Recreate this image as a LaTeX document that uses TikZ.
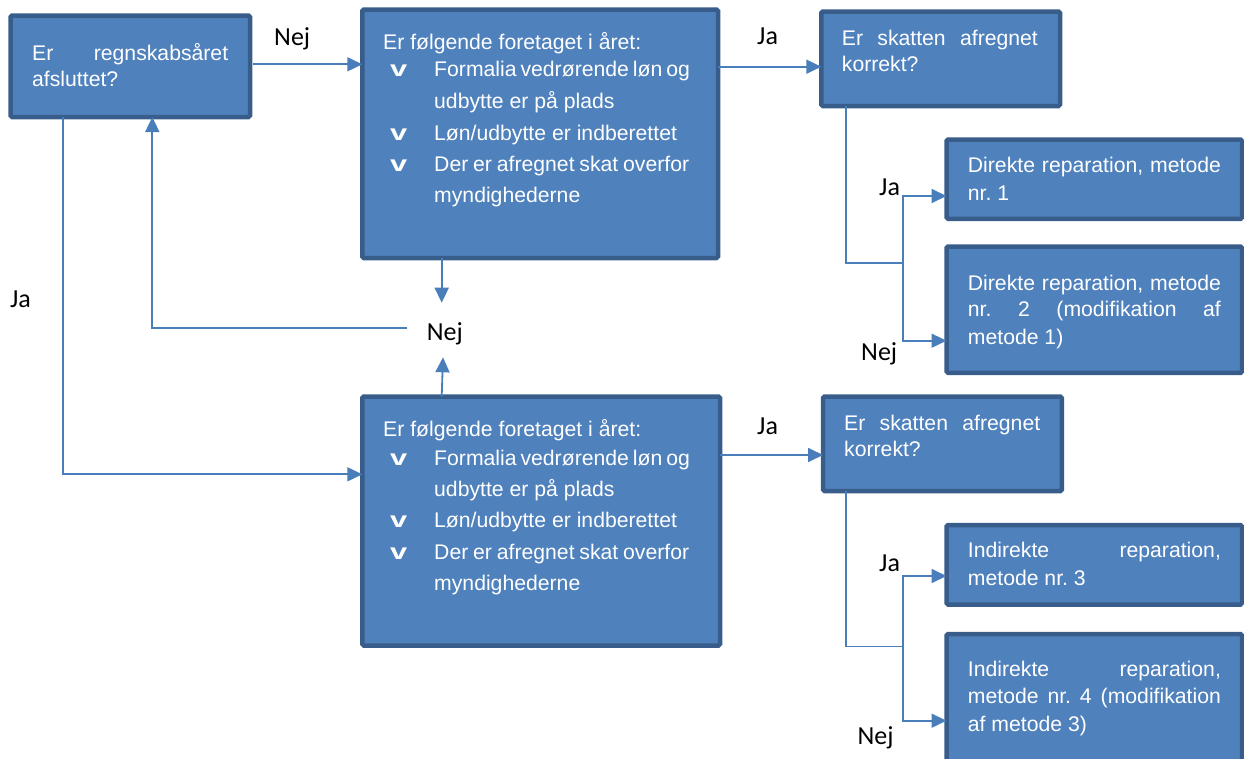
\documentclass[tikz,border=0pt]{standalone}
\usepackage{fontspec}
\usepackage{graphicx}
\setmainfont{Liberation Sans}
\newfontfamily\lblfont{Carlito}
\usetikzlibrary{arrows.meta}
\definecolor{boxfill}{HTML}{4F81BD}
\definecolor{boxline}{HTML}{385D8A}
\definecolor{conncol}{HTML}{4A7EBB}
\frenchspacing
\begin{document}
\begin{tikzpicture}[x=1pt,y=-1pt,
 box/.style={draw=boxline,fill=boxfill,line width=4.5pt,rounded corners=1.5pt,inner sep=0pt,outer sep=0pt,anchor=north west},
 txt/.style={anchor=base west,inner sep=0pt,text=white,font=\fontsize{21.2}{24}\selectfont},
 lbl/.style={anchor=base west,inner sep=0pt,font=\lblfont\fontsize{26}{30}\selectfont},
 chk/.style={txt,font=\fontsize{22}{24}\selectfont\bfseries},
 conn/.style={draw=conncol,line width=1.8pt},
 arr/.style={conn,-{Triangle[length=15pt,width=14pt]}}]
\useasboundingbox (0,0) rectangle (1244,758);

% boxes
\node[box,minimum width=239.5pt,minimum height=101.5pt] (A) at (10.5,15.5) {};
\node[box,minimum width=355.7pt,minimum height=248.5pt] (B) at (362.3,9.5) {};
\node[box,minimum width=238.7pt,minimum height=94.5pt] (C) at (821.3,11.5) {};
\node[box,minimum width=295.5pt,minimum height=79.3pt] (D) at (946.5,139.5) {};
\node[box,minimum width=295.5pt,minimum height=126.3pt] (E) at (946.5,246.5) {};
\node[box,minimum width=357.7pt,minimum height=249pt] (F) at (362.3,396.5) {};
\node[box,minimum width=238.8pt,minimum height=94.5pt] (G) at (823,396.5) {};
\node[box,minimum width=295.5pt,minimum height=79.5pt] (H) at (946.5,525) {};
\node[box,minimum width=295.5pt,minimum height=140pt] (I) at (946.5,634) {};

% box texts
\node[txt] (a1) at (32,60) {\makebox[196pt][s]{Er regnskabsåret}};
\node[txt] (a2) at (32,86) {afsluttet?};

\node[txt] (b0) at (383,49.3) {Er følgende foretaget i året:};
\node[chk] (bv1) at (390,76.7) {\scalebox{1.4}[1]{v}};
\node[chk] (bv2) at (390,140) {\scalebox{1.4}[1]{v}};
\node[chk] (bv3) at (390,171.7) {\scalebox{1.4}[1]{v}};
\node[txt] (b1) at (434,76.7) {\makebox[253pt][s]{Formalia vedrørende løn og}};
\node[txt] (b2) at (434,108) {udbytte er på plads};
\node[txt] (b3) at (434,140) {Løn/udbytte er indberettet};
\node[txt] (b4) at (434,171.7) {\makebox[255pt][s]{Der er afregnet skat overfor}};
\node[txt] (b5) at (434,202) {myndighederne};

\node[txt] (f0) at (383,436.7) {Er følgende foretaget i året:};
\node[chk] (fv1) at (390,465) {\scalebox{1.4}[1]{v}};
\node[chk] (fv2) at (390,527.3) {\scalebox{1.4}[1]{v}};
\node[chk] (fv3) at (390,559) {\scalebox{1.4}[1]{v}};
\node[txt] (f1) at (434,465) {\makebox[253pt][s]{Formalia vedrørende løn og}};
\node[txt] (f2) at (434,496) {udbytte er på plads};
\node[txt] (f3) at (434,527.3) {Løn/udbytte er indberettet};
\node[txt] (f4) at (434,559) {\makebox[255pt][s]{Der er afregnet skat overfor}};
\node[txt] (f5) at (434,590) {myndighederne};

\node[txt] (c1) at (841.7,45) {\makebox[196pt][s]{Er skatten afregnet}};
\node[txt] (c2) at (841.7,71.7) {korrekt?};

\node[txt] (d1) at (967.7,172.7) {\makebox[253pt][s]{Direkte reparation, metode}};
\node[txt] (d2) at (967.7,200) {nr. 1};

\node[txt] (e1) at (967.7,290) {\makebox[253pt][s]{Direkte reparation, metode}};
\node[txt] (e2) at (967.7,316.7) {\makebox[253pt][s]{nr. 2 (modifikation af}};
\node[txt] (e3) at (967.7,344.3) {metode 1)};

\node[txt] (g1) at (844,430) {\makebox[196pt][s]{Er skatten afregnet}};
\node[txt] (g2) at (844,456.7) {korrekt?};

\node[txt] (h1) at (967.7,557.7) {\makebox[253pt][s]{Indirekte reparation,}};
\node[txt] (h2) at (967.7,585) {metode nr. 3};

\node[txt] (i1) at (967.7,676.7) {\makebox[253pt][s]{Indirekte reparation,}};
\node[txt] (i2) at (967.7,703.3) {\makebox[253pt][s]{metode nr. 4 (modifikation}};
\node[txt] (i3) at (967.7,731.7) {af metode 3)};

% labels
\node[lbl] (l1) at (274,45) {Nej};
\node[lbl] (l2) at (757,44.3) {Ja};
\node[lbl] (l3) at (879,195.7) {Ja};
\node[lbl] (l4) at (861,360) {Nej};
\node[lbl] (l5) at (10,307.3) {Ja};
\node[lbl] (nejm) at (426.7,340.7) {Nej};
\node[lbl] (l7) at (757,434.3) {Ja};
\node[lbl] (l8) at (879,571) {Ja};
\node[lbl] (l9) at (857.3,744) {Nej};

% connector coordinates
\coordinate (nejtop) at (441.7,302.7);
\coordinate (nejbot) at (443,357.3);
\coordinate (nejleft) at (407.3,327.7);
\coordinate (cm) at (903.3,263);
\coordinate (gm) at (903.3,646.5);

% connectors
\draw[arr] ([xshift=3pt]A.east |- 0,64.3) -- (B.west |- 0,64.3);
\draw[arr] (B.east |- 0,66.7) -- (C.west |- 0,66.7);
\draw[conn] (C.south -| 845.7,0) |- (cm);
\draw[arr] (cm) |- (D.west |- 0,196);
\draw[arr] (cm) |- (E.west |- 0,340.7);
\draw[arr] (B.south -| nejtop) -- (nejtop);
\draw[arr] (F.north -| nejtop) -- (nejbot);
\draw[arr] (nejleft) -| (A.south -| 152.3,0);
\draw[arr] (A.south -| 63.3,0) |- (F.west |- 0,474.3);
\draw[arr] (F.east |- 0,455) -- (G.west |- 0,455);
\draw[conn] (G.south -| 845.7,0) |- (gm);
\draw[arr] (gm) |- (H.west |- 0,576);
\draw[arr] (gm) |- (I.west |- 0,720.7);
\end{tikzpicture}
\end{document}
